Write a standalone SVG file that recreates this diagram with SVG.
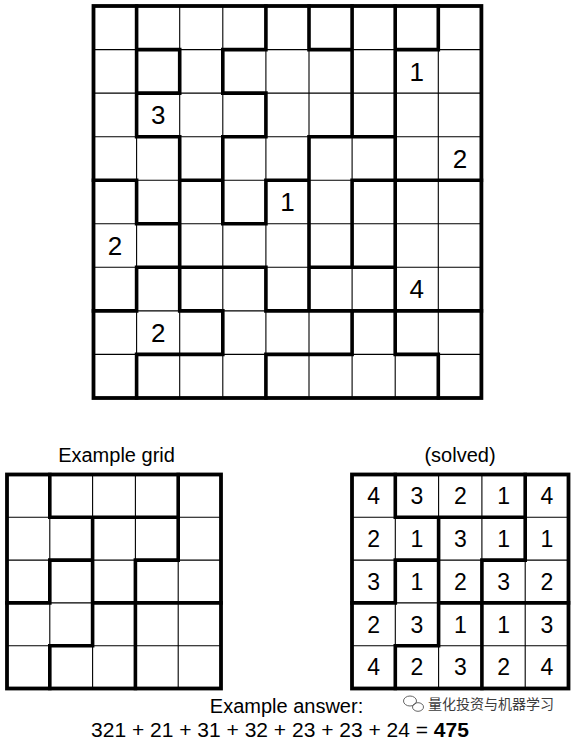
<svg xmlns="http://www.w3.org/2000/svg" width="576" height="743" viewBox="0 0 576 743">
<style>
.thin{fill:none;stroke:#000;stroke-width:1.1}
.thick{fill:none;stroke:#000;stroke-width:3.6;stroke-linecap:square}
.frame{fill:none;stroke:#000;stroke-width:3.8}
.dg{font-family:"Liberation Sans",Arial,sans-serif;fill:#000;text-anchor:middle}
.big{font-size:26px}
.sm{font-size:23px}
.lbl{font-family:"Liberation Sans",Arial,sans-serif;font-size:20px;fill:#000;text-anchor:middle}
.wm{font-family:"Noto Sans CJK SC","Noto Sans",sans-serif;font-size:14px;fill:#3c3c3c}
</style>
<rect width="576" height="743" fill="#fff"/>

<g id="main-grid">
<path class="thin" d="M136.6 6V398M179.7 6V398M222.8 6V398M265.9 6V398M309 6V398M352.1 6V398M395.2 6V398M438.3 6V398M93.5 49.6H481.4M93.5 93.1H481.4M93.5 136.7H481.4M93.5 180.2H481.4M93.5 223.8H481.4M93.5 267.3H481.4M93.5 310.9H481.4M93.5 354.4H481.4"/>
<path class="thick" d="M136.6 6V136.7M136.6 180.2V223.8M136.6 267.3V310.9M136.6 354.4V398
M179.7 49.6V93.1M179.7 136.7V310.9
M222.8 49.6V93.1M222.8 136.7V223.8M222.8 310.9V354.4
M265.9 6V49.6M265.9 93.1V136.7M265.9 180.2V223.8M265.9 267.3V310.9M265.9 354.4V398
M309 6V49.6M309 136.7V310.9
M352.1 6V136.7M352.1 180.2V267.3M352.1 310.9V354.4
M395.2 6V354.4
M438.3 6V49.6M438.3 354.4V398
M136.6 49.6H179.7M222.8 49.6H265.9M309 49.6H352.1M395.2 49.6H438.3
M136.6 93.1H179.7M222.8 93.1H265.9
M136.6 136.7H179.7M222.8 136.7H265.9M309 136.7H395.2
M93.5 180.2H136.6M179.7 180.2H222.8M265.9 180.2H309M352.1 180.2H481.4
M136.6 223.8H179.7M222.8 223.8H265.9
M136.6 267.3H265.9M309 267.3H395.2
M93.5 310.9H136.6M179.7 310.9H222.8M265.9 310.9H481.4
M136.6 354.4H222.8M265.9 354.4H352.1M395.2 354.4H438.3"/>
<rect class="frame" x="93.5" y="6" width="387.9" height="392"/>
<text class="dg big" x="416.8" y="80.6">1</text>
<text class="dg big" x="158.2" y="124.2">3</text>
<text class="dg big" x="459.9" y="167.7">2</text>
<text class="dg big" x="287.5" y="211.3">1</text>
<text class="dg big" x="115.1" y="254.8">2</text>
<text class="dg big" x="416.8" y="298.4">4</text>
<text class="dg big" x="158.2" y="341.9">2</text>
</g>

<g id="example-grid">
<text class="lbl" x="116.5" y="461.5">Example grid</text>
<path class="thin" d="M49.8 474.5V688.5M92.6 474.5V688.5M135.4 474.5V688.5M178.2 474.5V688.5M7 517.3H221M7 560.1H221M7 602.9H221M7 645.7H221"/>
<path class="thick" d="M49.8 474.5V517.3M49.8 560.1V602.9M49.8 645.7V688.5M92.6 517.3V645.7M135.4 560.1V688.5M178.2 474.5V560.1M49.8 517.3H178.2M49.8 560.1H92.6M135.4 560.1H178.2M7 602.9H49.8M92.6 602.9H221M49.8 645.7H92.6"/>
<rect class="frame" x="7" y="474.5" width="214" height="214"/>
</g>

<g id="solved-grid">
<text class="lbl" x="460" y="461.5">(solved)</text>
<path class="thin" d="M395.3 474.5V688.5M438.6 474.5V688.5M481.9 474.5V688.5M525.2 474.5V688.5M352 517.3H568.5M352 560.1H568.5M352 602.9H568.5M352 645.7H568.5"/>
<path class="thick" d="M395.3 474.5V517.3M395.3 560.1V602.9M395.3 645.7V688.5M438.6 517.3V645.7M481.9 560.1V688.5M525.2 474.5V560.1M395.3 517.3H525.2M395.3 560.1H438.6M481.9 560.1H525.2M352 602.9H395.3M438.6 602.9H568.5M395.3 645.7H438.6"/>
<rect class="frame" x="352" y="474.5" width="216.5" height="214"/>
<g class="dg sm">
<text x="373.7" y="504.1">4</text><text x="417" y="504.1">3</text><text x="460.3" y="504.1">2</text><text x="503.6" y="504.1">1</text><text x="546.9" y="504.1">4</text>
<text x="373.7" y="546.9">2</text><text x="417" y="546.9">1</text><text x="460.3" y="546.9">3</text><text x="503.6" y="546.9">1</text><text x="546.9" y="546.9">1</text>
<text x="373.7" y="589.7">3</text><text x="417" y="589.7">1</text><text x="460.3" y="589.7">2</text><text x="503.6" y="589.7">3</text><text x="546.9" y="589.7">2</text>
<text x="373.7" y="632.5">2</text><text x="417" y="632.5">3</text><text x="460.3" y="632.5">1</text><text x="503.6" y="632.5">1</text><text x="546.9" y="632.5">3</text>
<text x="373.7" y="675.3">4</text><text x="417" y="675.3">2</text><text x="460.3" y="675.3">3</text><text x="503.6" y="675.3">2</text><text x="546.9" y="675.3">4</text>
</g>
</g>

<g id="answer">
<text class="lbl" x="286.5" y="713.3">Example answer:</text>
<text class="lbl" x="280" y="736.8" style="font-size:21px">321 + 21 + 31 + 32 + 23 + 23 + 24 = <tspan font-weight="bold">475</tspan></text>
</g>

<g id="watermark">
<g fill="none" stroke="#555" stroke-width="0.9">
<ellipse cx="410" cy="701" rx="6.5" ry="5"/>
<ellipse cx="418" cy="707" rx="5.5" ry="4.3"/>
</g>
<text class="wm" x="428" y="709">量化投资与机器学习</text>
</g>
</svg>
